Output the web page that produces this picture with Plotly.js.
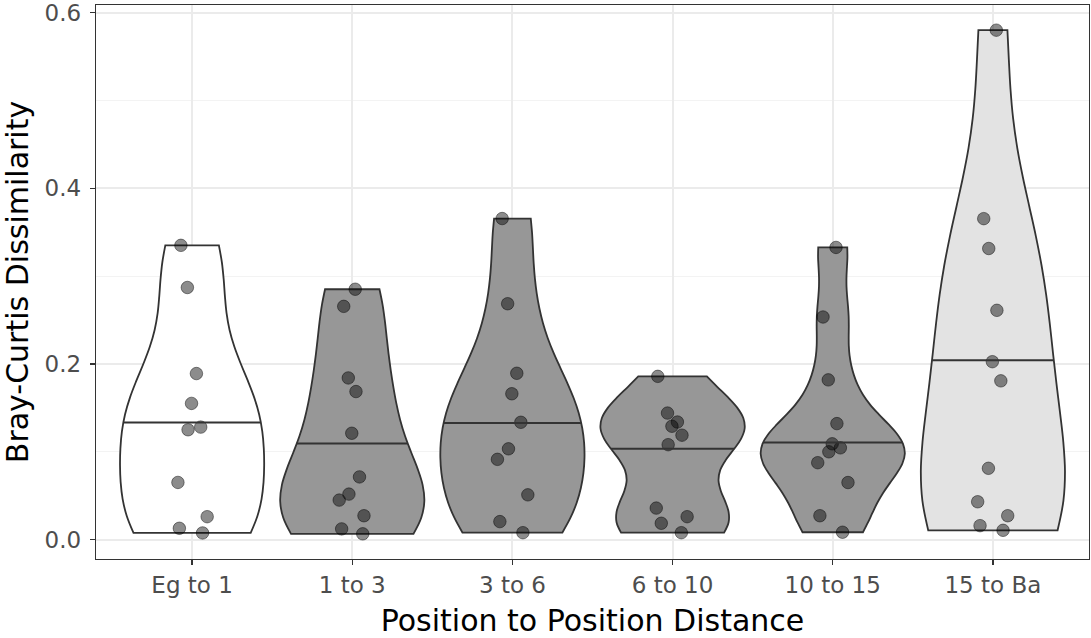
<!DOCTYPE html>
<html>
<head>
<meta charset="utf-8">
<script src="https://cdn.plot.ly/plotly-3.0.1.min.js"></script>
<style>
  html, body { margin: 0; padding: 0; background: #ffffff; }
  #chart { width: 1091px; height: 638px; }
</style>
</head>
<body>
<div id="chart"></div>
<script>
// Bray-Curtis dissimilarity between neighbouring sampling positions
const categories = ['Eg to 1', '1 to 3', '3 to 6', '6 to 10', '10 to 15', '15 to Ba'];

const egTo1      = [0.335, 0.287, 0.189, 0.155, 0.128, 0.125, 0.065, 0.026, 0.0128, 0.0075];
const oneTo3     = [0.285, 0.2655, 0.184, 0.1685, 0.121, 0.0713, 0.0517, 0.0449, 0.0271, 0.0121, 0.0065];
const threeTo6   = [0.3655, 0.2685, 0.1893, 0.166, 0.1335, 0.1033, 0.0913, 0.0509, 0.0204, 0.0078];
const sixTo10    = [0.1858, 0.144, 0.1338, 0.129, 0.1188, 0.108, 0.0358, 0.026, 0.0185, 0.0078];
const tenTo15    = [0.3326, 0.2534, 0.1818, 0.132, 0.109, 0.1044, 0.0999, 0.0875, 0.0649, 0.0271, 0.0083];
const fifteenToBa = [0.580, 0.3654, 0.3314, 0.261, 0.2025, 0.1807, 0.0811, 0.043, 0.0271, 0.0158, 0.0105];

const groups = [egTo1, oneTo3, threeTo6, sixTo10, tenTo15, fifteenToBa];

const yTickVals = [0, 0.2, 0.4, 0.6];
const yTickText = ['0.0', '0.2', '0.4', '0.6'];

// fill per group
const fills = ['#ffffff', '#979797', '#979797', '#979797', '#979797', '#e3e3e3'];

const FONT = 'DejaVu Sans';
const VIOLIN_WIDTH = 0.9;

// ---- density helpers (gaussian kernel, rule-of-thumb bandwidth) ----
function quantile7(sorted, p) {
  const h = (sorted.length - 1) * p;
  const lo = Math.floor(h);
  const hi = Math.min(lo + 1, sorted.length - 1);
  return sorted[lo] + (h - lo) * (sorted[hi] - sorted[lo]);
}
function bwNrd0(x) {
  const n = x.length;
  const mean = x.reduce((a, b) => a + b, 0) / n;
  const sd = Math.sqrt(x.reduce((a, b) => a + (b - mean) * (b - mean), 0) / (n - 1));
  const s = x.slice().sort((a, b) => a - b);
  const iqr = quantile7(s, 0.75) - quantile7(s, 0.25);
  let lo = Math.min(sd, iqr / 1.34);
  if (!lo) lo = sd || 1;
  return 0.9 * lo * Math.pow(n, -0.2);
}
function makeKde(x, bw) {
  const c = 1 / (x.length * bw * Math.sqrt(2 * Math.PI));
  return t => {
    let s = 0;
    for (const v of x) { const u = (t - v) / bw; s += Math.exp(-0.5 * u * u); }
    return c * s;
  };
}
// median of the trimmed density, and the violin half-width there
function densityMedian(x, bw) {
  const kde = makeKde(x, bw);
  const lo = Math.min(...x), hi = Math.max(...x);
  const n = 512;
  const ys = [], ds = [];
  let maxD = 0;
  for (let i = 0; i < n; i++) {
    const y = lo + (hi - lo) * i / (n - 1);
    const d = kde(y);
    ys.push(y); ds.push(d); maxD = Math.max(maxD, d);
  }
  const total = ds.reduce((a, b) => a + b, 0);
  let cum = 0, prevCum = 0, med = ys[0];
  for (let i = 0; i < n; i++) {
    prevCum = cum;
    cum += ds[i] / total;
    if (cum >= 0.5) {
      const f = i === 0 ? 0 : (0.5 - prevCum) / (cum - prevCum);
      med = i === 0 ? ys[0] : ys[i - 1] + f * (ys[i] - ys[i - 1]);
      break;
    }
  }
  return { median: med, halfWidth: (VIOLIN_WIDTH / 2) * kde(med) / maxD };
}

const traces = [];
const medianTraces = [];
groups.forEach((vals, i) => {
  const bw = bwNrd0(vals);
  traces.push({
    type: 'violin',
    name: categories[i],
    x0: i,
    y: vals,
    bandwidth: bw,
    spanmode: 'hard',
    scalemode: 'width',
    width: VIOLIN_WIDTH,
    side: 'both',
    fillcolor: fills[i],
    opacity: 1,
    line: { color: '#333333', width: 1.8 },
    points: 'all',
    pointpos: 0,
    jitter: 0.28,
    marker: {
      size: 12.5,
      color: 'rgba(0,0,0,0.45)',
      line: { color: 'rgba(0,0,0,0.45)', width: 1 }
    },
    box: { visible: false },
    meanline: { visible: false },
    hoveron: 'points',
    showlegend: false
  });
  const m = densityMedian(vals, bw);
  medianTraces.push({
    type: 'scatter',
    mode: 'lines',
    x: [i - m.halfWidth, i + m.halfWidth],
    y: [m.median, m.median],
    line: { color: '#333333', width: 2 },
    hoverinfo: 'skip',
    showlegend: false
  });
});

// 5% padding around the data range, as on the value axis
const allVals = groups.flat();
const vMin = Math.min(...allVals), vMax = Math.max(...allVals);
const pad = 0.05 * (vMax - vMin);

const layout = {
  width: 1091,
  height: 638,
  margin: { l: 96, r: 2, t: 5, b: 79 },
  paper_bgcolor: '#ffffff',
  plot_bgcolor: '#ffffff',
  showlegend: false,
  violinmode: 'overlay',
  xaxis: {
    range: [-0.6, categories.length - 0.4],
    tickmode: 'array',
    tickvals: categories.map((_, i) => i),
    ticktext: categories,
    showgrid: true,
    gridcolor: '#ebebeb',
    gridwidth: 2,
    zeroline: false,
    showline: true,
    mirror: true,
    linecolor: '#333333',
    linewidth: 1.3,
    ticks: 'outside',
    ticklen: 5,
    tickwidth: 1.3,
    tickcolor: '#333333',
    tickfont: { family: FONT, size: 23, color: '#4d4d4d' },
    title: {
      text: 'Position to Position Distance',
      font: { family: FONT, size: 30, color: '#000000' },
      standoff: 13
    }
  },
  yaxis: {
    range: [vMin - pad, vMax + pad],
    tickmode: 'array',
    tickvals: yTickVals,
    ticktext: yTickText,
    ticklabeloverflow: 'allow',
    ticklabelstandoff: 4,
    minor: { dtick: 0.1, tick0: 0.1, showgrid: true, gridcolor: '#f3f3f3', gridwidth: 1, ticks: '' },
    showgrid: true,
    gridcolor: '#ebebeb',
    gridwidth: 2,
    zeroline: false,
    showline: true,
    mirror: true,
    linecolor: '#333333',
    linewidth: 1.3,
    ticks: 'outside',
    ticklen: 5,
    tickwidth: 1.3,
    tickcolor: '#333333',
    tickfont: { family: FONT, size: 23, color: '#4d4d4d' },
    title: {
      text: 'Bray-Curtis Dissimilarity',
      font: { family: FONT, size: 30, color: '#000000' },
      standoff: 12
    }
  }
};

Plotly.newPlot('chart', traces.concat(medianTraces), layout, { displayModeBar: false, staticPlot: true });
</script>
</body>
</html>
